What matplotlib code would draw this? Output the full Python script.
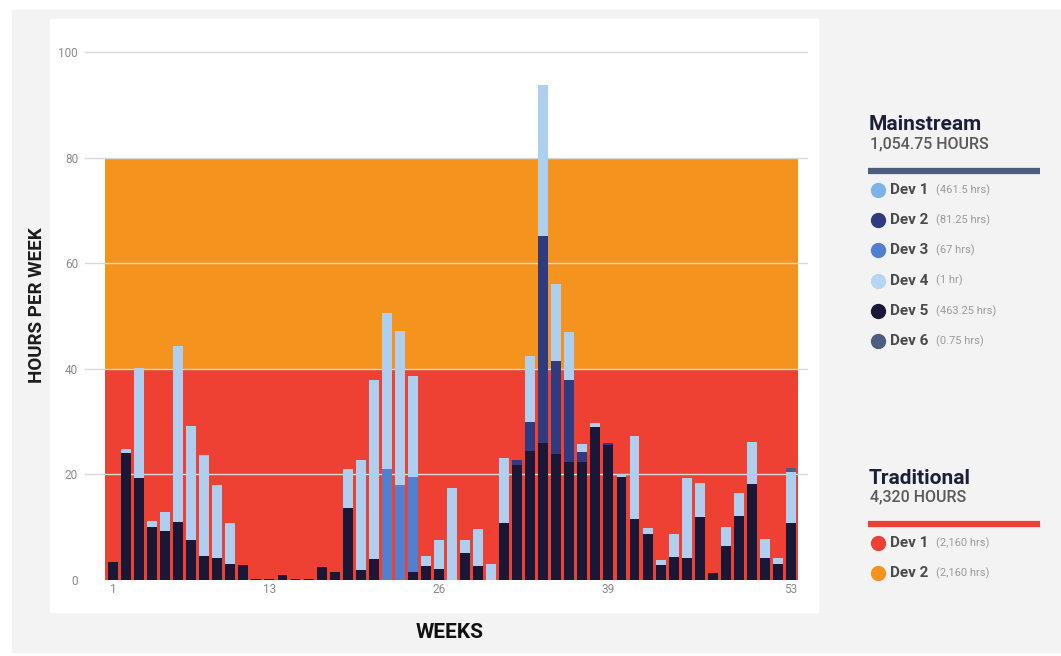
import matplotlib.pyplot as plt
from matplotlib.patches import Rectangle
from matplotlib.lines import Line2D

# --- Data ---------------------------------------------------------------
weeks = list(range(1, 54))

# hours per week, one list per developer (mainstream team)
dev5 = [3.4, 24.1, 19.3, 10.0, 9.2, 11.0, 7.5, 4.6, 4.1, 3.0,
        2.8, 0.25, 0.25, 1.0, 0.25, 0.25, 2.5, 1.5, 13.6, 1.8,
        3.9, 0, 0, 1.6, 2.7, 2.0, 0, 5.2, 2.7, 0,
        10.8, 21.8, 24.4, 26.0, 23.9, 22.3, 22.3, 29.0, 25.6, 19.5,
        11.5, 8.8, 2.9, 4.3, 4.1, 11.9, 1.3, 6.4, 12.1, 18.2,
        4.1, 3.1, 10.8]
dev2 = [0] * 31 + [0.9, 5.6, 39.1, 17.5, 15.5, 2.0, 0, 0.3] + [0] * 14
dev3 = [0] * 21 + [21.1, 18.0, 18.0] + [0] * 29
dev1 = [0, 0.65, 20.8, 1.2, 3.6, 33.3, 21.7, 19.1, 13.9, 7.8,
        0, 0, 0, 0, 0, 0, 0, 0, 7.4, 21.0,
        34.0, 29.4, 29.2, 19.0, 1.9, 5.5, 17.5, 2.3, 7.0, 3.0,
        12.4, 0, 12.4, 28.6, 14.6, 9.1, 1.5, 0.8, 0, 0.6,
        15.8, 1.0, 0.9, 4.4, 15.2, 6.4, 0, 3.7, 4.3, 8.0,
        3.7, 1.0, 9.7]
dev6 = [0] * 52 + [0.75]

# traditional team capacity bands
TRAD_DEV1 = 40
TRAD_DEV2 = 40

ytick_vals = [0, 20, 40, 60, 80, 100]
xtick_vals = [1, 13, 26, 39, 53]

main_names = ["Dev 1", "Dev 2", "Dev 3", "Dev 4", "Dev 5", "Dev 6"]
main_hours = ["(461.5 hrs)", "(81.25 hrs)", "(67 hrs)", "(1 hr)", "(463.25 hrs)", "(0.75 hrs)"]
trad_names = ["Dev 1", "Dev 2"]
trad_hours = ["(2,160 hrs)", "(2,160 hrs)"]

# --- Colours ------------------------------------------------------------
RED = "#ee4133"
ORANGE = "#f5931f"
C_DEV1 = "#afcff0"
C_DEV2 = "#2e3b80"
C_DEV3 = "#5080cf"
C_DEV4 = "#b5d6f3"
C_DEV5 = "#1a1836"
C_DEV6 = "#4c5d80"
main_colors = ["#7cb3e8", C_DEV2, C_DEV3, C_DEV4, C_DEV5, C_DEV6]
trad_colors = [RED, ORANGE]

W, H = 1061, 656
plt.rcParams["font.family"] = ["Roboto", "DejaVu Sans"]
fig = plt.figure(figsize=(W / 100, H / 100), dpi=100)
fig.patch.set_facecolor("white")


def fx(px):
    return px / W


def fy(py):
    return 1 - py / H


# background panels
fig.patches.append(Rectangle((fx(12), fy(652)), fx(1061) - fx(12), fy(10) - fy(652),
                             transform=fig.transFigure, color="#f3f3f3", zorder=-2))
fig.patches.append(Rectangle((fx(50), fy(612)), fx(818) - fx(50), fy(19) - fy(612),
                             transform=fig.transFigure, color="white", zorder=-1))

# --- Chart ----------------------------------------------------------------
ax = fig.add_axes([fx(85), fy(580), fx(807) - fx(85), fy(52) - fy(580)])
ax.set_facecolor("none")
ax.set_xlim(-1.147, 54.23)
ax.set_ylim(0, 100)

band_x = [0.39, 53.55]
ax.fill_between(band_x, 0, TRAD_DEV1, color=RED, lw=0, zorder=0)
ax.fill_between(band_x, TRAD_DEV1, TRAD_DEV1 + TRAD_DEV2, color=ORANGE, lw=0, zorder=0)

for v in ytick_vals[1:]:
    ax.axhline(v, color="#d9d9d9", lw=1, zorder=1, clip_on=False)

bottom = [0] * len(weeks)
for vals, col in [(dev5, C_DEV5), (dev2, C_DEV2), (dev3, C_DEV3), (dev1, C_DEV1), (dev6, C_DEV6)]:
    ax.bar(weeks, vals, bottom=bottom, width=0.76, color=col, lw=0, zorder=2)
    bottom = [b + v for b, v in zip(bottom, vals)]

for s in ax.spines.values():
    s.set_visible(False)
ax.set_yticks(ytick_vals)
ax.set_xticks(xtick_vals)
ax.tick_params(length=0, labelsize=8.5, labelcolor="#8a8a8a")
ax.tick_params(axis="y", pad=5)
ax.tick_params(axis="x", pad=2)

fig.text(fx(37), fy(305), "HOURS PER WEEK", rotation=90, ha="center", va="center",
         fontsize=13.5, fontweight="bold", color="#1c1c1c")
fig.text(fx(450), fy(633), "WEEKS", ha="center", va="center",
         fontsize=15, fontweight="bold", color="#111111")

# --- Legend ---------------------------------------------------------------
def group(title, total, line_color, y0, names, hours, colors):
    fig.text(fx(869), fy(y0), title, ha="left", va="center", fontsize=15,
             fontweight="bold", color="#1b1f3a")
    fig.text(fx(870), fy(y0 + 19), total, ha="left", va="center", fontsize=11.5,
             fontweight="medium", color="#5a5a5a")
    fig.add_artist(Line2D([fx(868), fx(1040)], [fy(y0 + 46), fy(y0 + 46)],
                          transform=fig.transFigure, color=line_color, lw=4.5,
                          solid_capstyle="butt"))
    for i, (n, h, c) in enumerate(zip(names, hours, colors)):
        yy = y0 + 65 + i * 30.2
        fig.add_artist(Line2D([fx(878)], [fy(yy)], transform=fig.transFigure,
                              marker="o", ms=10, color=c, lw=0))
        fig.text(fx(890), fy(yy), n, ha="left", va="center", fontsize=11,
                 fontweight="bold", color="#4a4a4a")
        fig.text(fx(936), fy(yy), h, ha="left", va="center", fontsize=8,
                 color="#9a9a9a")


group("Mainstream", "1,054.75 HOURS", C_DEV6, 125, main_names, main_hours, main_colors)
group("Traditional", "4,320 HOURS", RED, 478, trad_names, trad_hours, trad_colors)

fig.savefig("out.png", dpi=100)
